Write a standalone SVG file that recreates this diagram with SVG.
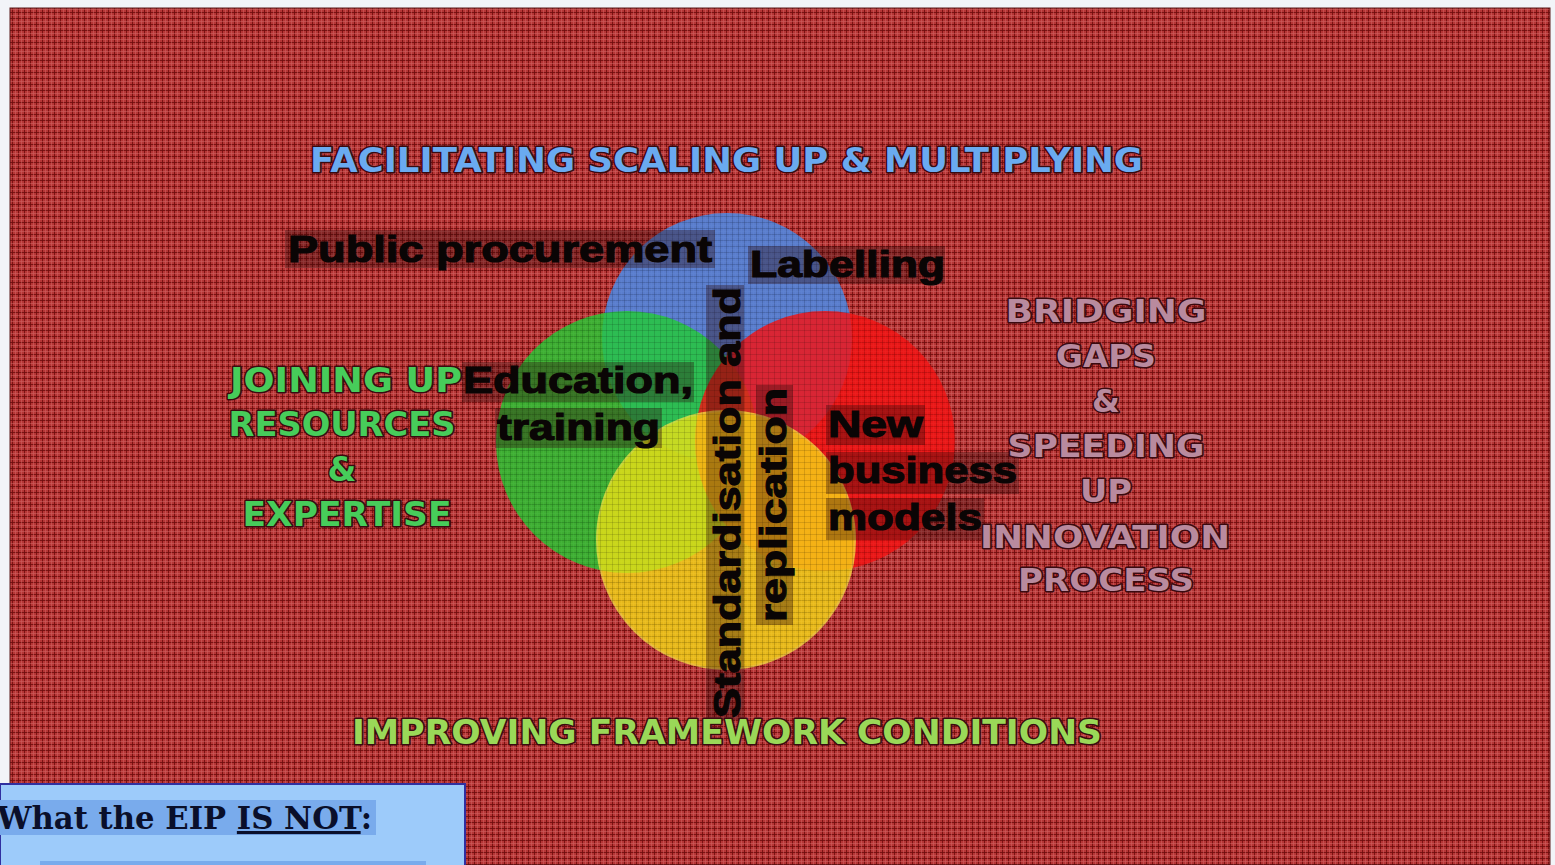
<svg xmlns="http://www.w3.org/2000/svg" width="1555" height="865" viewBox="0 0 1555 865">
<defs>
<pattern id="plaid" x="0" y="0" width="6" height="6" patternUnits="userSpaceOnUse">
<rect width="6" height="6" fill="#b63636"/>
<rect x="0" y="0" width="1" height="6" fill="#8c1414"/>
<rect x="0" y="0" width="6" height="1" fill="#8c1414"/>
<rect x="3" y="0" width="1" height="6" fill="#cc5a5a" opacity="0.7"/>
<rect x="0" y="3" width="6" height="1" fill="#cc5a5a" opacity="0.7"/>
</pattern>
<pattern id="plaidOver" x="0" y="0" width="6" height="6" patternUnits="userSpaceOnUse">
<rect x="0" y="0" width="1" height="6" fill="#000" opacity="0.12"/>
<rect x="0" y="0" width="6" height="1" fill="#000" opacity="0.12"/>
</pattern>
</defs>
<style>
.hdr{font-family:"DejaVu Sans",Verdana,sans-serif;font-weight:bold;paint-order:stroke;stroke:#3a0a10;stroke-width:3px;stroke-linejoin:round}
.blk{font-family:"Liberation Sans",Arial,sans-serif;font-weight:bold;fill:#0a0505;stroke:#0a0505;stroke-width:1.2px;font-size:36px}
.hl{fill:#2a0a0a;opacity:0.35}
.grn{fill:#47cc5a;font-size:33px}
.mau{fill:#b98a9e;font-size:32px}
</style>
<rect x="0" y="0" width="1555" height="865" fill="#f2f4f8"/>
<rect x="10" y="8" width="1540" height="857" fill="url(#plaid)" stroke="#5a1a1a" stroke-width="1"/>

<g id="circles">
<circle id="c-blue" cx="727" cy="338" r="125" fill="#4a8ae6" opacity="0.85"/>
<circle id="c-green" cx="627" cy="442" r="131" fill="#22cc33" opacity="0.8"/>
<circle id="c-red" cx="825" cy="441" r="130" fill="#f41212" opacity="0.82"/>
<circle id="c-yellow" cx="726" cy="540" r="129" fill="#f8e414" opacity="0.75" stroke="#f7e440" stroke-width="2"/>
<rect x="10" y="8" width="1540" height="857" fill="url(#plaidOver)"/>
</g>

<g id="title-top">
<text class="hdr" x="310" y="172" font-size="33" fill="#6aaaf0" textLength="833" lengthAdjust="spacingAndGlyphs">FACILITATING SCALING UP &amp; MULTIPLYING</text>
</g>

<g id="public-procurement">
<rect class="hl" x="285" y="230" width="430" height="38"/>
<text class="blk" x="288" y="262" textLength="424" lengthAdjust="spacingAndGlyphs">Public procurement</text>
</g>

<g id="labelling">
<rect class="hl" x="748" y="246" width="197" height="38"/>
<text class="blk" x="750" y="277" textLength="195" lengthAdjust="spacingAndGlyphs">Labelling</text>
</g>

<g id="education">
<rect class="hl" x="462" y="362" width="232" height="40"/>
<rect class="hl" x="495" y="408" width="167" height="40"/>
<text class="blk" x="463" y="393" textLength="230" lengthAdjust="spacingAndGlyphs">Education,</text>
<text class="blk" x="497" y="440" textLength="163" lengthAdjust="spacingAndGlyphs">training</text>
</g>

<g id="new-business">
<rect class="hl" x="826" y="405" width="99" height="40"/>
<rect class="hl" x="826" y="452" width="193" height="42"/>
<rect class="hl" x="826" y="498" width="158" height="42"/>
<text class="blk" x="828" y="437" textLength="95" lengthAdjust="spacingAndGlyphs">New</text>
<text class="blk" x="828" y="483" textLength="189" lengthAdjust="spacingAndGlyphs">business</text>
<text class="blk" x="828" y="530" textLength="154" lengthAdjust="spacingAndGlyphs">models</text>
</g>

<g id="standardisation">
<rect class="hl" x="706" y="285" width="38" height="435"/>
<text class="blk" transform="translate(740,718) rotate(-90)" x="0" y="0" textLength="431" lengthAdjust="spacingAndGlyphs">Standardisation and</text>
<rect class="hl" x="756" y="385" width="37" height="240"/>
<text class="blk" transform="translate(786,622) rotate(-90)" x="0" y="0" textLength="234" lengthAdjust="spacingAndGlyphs">replication</text>
</g>

<g id="joining-up" text-anchor="middle">
<text class="hdr grn" x="346" y="392" textLength="232" lengthAdjust="spacingAndGlyphs">JOINING UP</text>
<text class="hdr grn" x="342" y="436" textLength="227" lengthAdjust="spacingAndGlyphs">RESOURCES</text>
<text class="hdr grn" x="342" y="481">&amp;</text>
<text class="hdr grn" x="347" y="526" textLength="209" lengthAdjust="spacingAndGlyphs">EXPERTISE</text>
</g>

<g id="bridging" text-anchor="middle">
<text class="hdr mau" x="1106" y="322" textLength="201" lengthAdjust="spacingAndGlyphs">BRIDGING</text>
<text class="hdr mau" x="1106" y="367" textLength="100" lengthAdjust="spacingAndGlyphs">GAPS</text>
<text class="hdr mau" x="1106" y="412">&amp;</text>
<text class="hdr mau" x="1106" y="457" textLength="197" lengthAdjust="spacingAndGlyphs">SPEEDING</text>
<text class="hdr mau" x="1106" y="502" textLength="52" lengthAdjust="spacingAndGlyphs">UP</text>
<text class="hdr mau" x="1105" y="548" textLength="250" lengthAdjust="spacingAndGlyphs">INNOVATION</text>
<text class="hdr mau" x="1106" y="591" textLength="176" lengthAdjust="spacingAndGlyphs">PROCESS</text>
</g>

<g id="title-bottom">
<text class="hdr" x="352" y="744" font-size="33" fill="#9ad858" textLength="750" lengthAdjust="spacingAndGlyphs">IMPROVING FRAMEWORK CONDITIONS</text>
</g>

<g id="not-box">
<rect x="0" y="784" width="465" height="90" fill="#9dcbfa" stroke="#3030a0" stroke-width="2"/>
<rect x="0" y="800" width="376" height="35" fill="#79abec"/>
<rect x="40" y="861" width="386" height="6" fill="#79abec"/>
<text x="-3" y="829" font-family="&quot;DejaVu Serif&quot;,Georgia,serif" font-weight="bold" font-size="31" fill="#0a0f2a" textLength="375" lengthAdjust="spacingAndGlyphs">What the EIP <tspan text-decoration="underline">IS NOT</tspan>:</text>
</g>
</svg>
